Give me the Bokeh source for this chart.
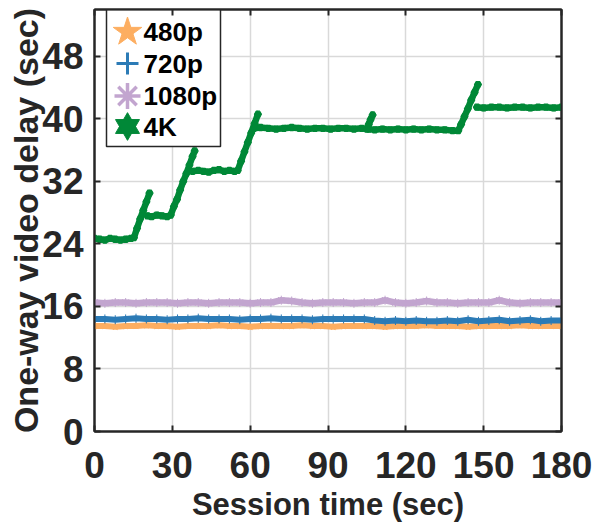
from math import nan

from bokeh.plotting import figure
from bokeh.models import FixedTicker, LinearAxis, Range1d, CustomJSTickFormatter
from bokeh.core.properties import value
from bokeh.embed import file_html
from bokeh.resources import INLINE

# ---------------- data ----------------
series_names = ["480p", "720p", "1080p", "4K"]
series_colors = ["#FDAE61", "#2C7BB6", "#C2A5CF", "#008837"]

# sampling instants (s) of the three steady resolutions
t_steady = [0, 4, 8, 12, 16, 20, 24, 28, 32, 36, 40, 44, 48, 52, 56, 60,
            64, 68, 72, 76, 80, 84, 88, 92, 96, 100, 104, 108, 112, 116, 120,
            124, 128, 132, 136, 140, 144, 148, 152, 156, 160, 164, 168, 172,
            176, 180]

delay_480p = [13.5, 13.5, 13.4, 13.5, 13.5, 13.6, 13.5, 13.5, 13.4, 13.5,
              13.5, 13.5, 13.6, 13.5, 13.5, 13.4, 13.5, 13.5, 13.5, 13.5,
              13.6, 13.5, 13.5, 13.4, 13.5, 13.5, 13.5, 13.5, 13.4, 13.5,
              13.5, 13.5, 13.6, 13.5, 13.5, 13.5, 13.4, 13.5, 13.5, 13.5,
              13.5, 13.6, 13.5, 13.5, 13.5, 13.5]

delay_720p = [14.4, 14.4, 14.3, 14.4, 14.5, 14.4, 14.4, 14.3, 14.4, 14.4,
              14.5, 14.4, 14.4, 14.4, 14.3, 14.4, 14.4, 14.5, 14.4, 14.4,
              14.4, 14.3, 14.4, 14.4, 14.4, 14.4, 14.4, 14.2, 14.1, 14.2,
              14.1, 14.2, 14.1, 14.1, 14.2, 14.1, 14.3, 14.1, 14.2, 14.3,
              14.1, 14.2, 14.3, 14.1, 14.2, 14.2]

delay_1080p = [16.5, 16.4, 16.5, 16.5, 16.4, 16.5, 16.5, 16.5, 16.4, 16.5,
               16.5, 16.4, 16.5, 16.5, 16.5, 16.4, 16.5, 16.5, 16.8, 16.7,
               16.5, 16.4, 16.5, 16.5, 16.5, 16.4, 16.5, 16.5, 16.8, 16.5,
               16.4, 16.5, 16.7, 16.5, 16.5, 16.4, 16.5, 16.5, 16.5, 16.8,
               16.5, 16.4, 16.5, 16.5, 16.5, 16.5]

# 4K stream: plateaus, stall ramps; nan separates the pieces
t_4k = [0, 2, 4, 6, 8, 10, 12, 14, 15.2,
        16.4, 17.6, 18.8, 20.0, 21.2, nan,
        20.4, 22, 24, 26, 28, 29.4,
        30.6, 31.8, 33.0, 34.2, 35.4, 36.6, 37.8, 38.6, nan,
        37.8, 40, 42, 44, 46, 48, 50, 52, 54, 55.2,
        56.5, 57.8, 59.1, 60.4, 61.7, 63.0, nan,
        61.5, 64, 67, 70, 73, 76, 79, 82, 85, 88, 91, 94, 97, 100, 103, 105.0,
        105.7, 106.4, 107.2, nan,
        105.8, 108, 111, 114, 117, 120, 123, 126, 129, 132, 135, 138, 140.2,
        141.3, 142.6, 143.9, 145.2, 146.5, 147.8, nan,
        147.4, 150, 153, 156, 159, 162, 165, 168, 171, 174, 177, 180]

delay_4k = [24.7, 24.6, 24.5, 24.7, 24.6, 24.5, 24.6, 24.7, 24.8,
            26.0, 27.2, 28.3, 29.4, 30.5, nan,
            27.6, 27.5, 27.7, 27.6, 27.5, 27.7,
            28.8, 29.7, 30.9, 32.0, 33.0, 34.1, 35.2, 35.9, nan,
            33.3, 33.4, 33.3, 33.2, 33.4, 33.5, 33.3, 33.4, 33.3, 33.4,
            34.6, 35.8, 37.0, 38.2, 39.4, 40.6, nan,
            38.8, 38.9, 38.8, 38.7, 38.8, 38.9, 38.8, 38.7, 38.8, 38.8, 38.7,
            38.8, 38.8, 38.7, 38.8, 38.7,
            39.3, 39.9, 40.5, nan,
            38.7, 38.6, 38.7, 38.6, 38.7, 38.6, 38.7, 38.6, 38.7, 38.6, 38.6,
            38.5, 38.5,
            39.3, 40.3, 41.3, 42.4, 43.4, 44.4, nan,
            41.5, 41.4, 41.5, 41.5, 41.4, 41.5, 41.5, 41.4, 41.5, 41.5, 41.4,
            41.5]

x_ticks = [0, 30, 60, 90, 120, 150, 180]
y_ticks = [0, 8, 16, 24, 32, 40, 48]

# ---------------- layout ----------------
X_START, X_END = 0, 180
Y_START, Y_END = 0, 54
FRAME_LEFT, FRAME_TOP, FRAME_W, FRAME_H = 94, 9, 467, 422
DARK = "#262626"
FONT = "Liberation Sans"

p = figure(frame_width=FRAME_W, frame_height=FRAME_H,
           min_border_left=FRAME_LEFT, min_border_right=594 - FRAME_LEFT - FRAME_W,
           min_border_top=FRAME_TOP, min_border_bottom=527 - FRAME_TOP - FRAME_H,
           x_range=Range1d(X_START, X_END), y_range=Range1d(Y_START, Y_END),
           output_backend="svg", toolbar_location=None,
           background_fill_color="white", border_fill_color="white")

p.outline_line_color = DARK
p.outline_line_width = 2

xt = FixedTicker(ticks=x_ticks)
yt = FixedTicker(ticks=y_ticks)
p.xaxis.ticker = xt
p.yaxis.ticker = yt
p.xgrid.ticker = xt
p.ygrid.ticker = yt
for g in (p.xgrid, p.ygrid):
    g.grid_line_color = "#d9d9d9"
    g.grid_line_width = 1.5

for ax in (p.xaxis[0], p.yaxis[0]):
    ax.axis_line_color = DARK
    ax.axis_line_width = 2
    ax.major_tick_line_color = DARK
    ax.major_tick_line_width = 2
    ax.major_tick_in = 6
    ax.major_tick_out = 0
    ax.minor_tick_line_color = None
    ax.major_label_text_font = FONT
    ax.major_label_text_font_style = "bold"
    ax.major_label_text_font_size = "37px"
    ax.major_label_text_color = DARK
    ax.axis_label_text_font = FONT
    ax.axis_label_text_font_style = "bold"
    ax.axis_label_text_color = DARK

p.xaxis.axis_label = "Session time (sec)"
p.xaxis.axis_label_text_font_size = "31px"
p.xaxis.major_label_standoff = 20
p.xaxis.axis_label_standoff = 6
p.yaxis.axis_label = "One-way video delay (sec)"
p.yaxis.axis_label_text_font_size = "34px"
p.yaxis.major_label_standoff = 11
p.yaxis.axis_label_standoff = -6

# inward ticks on the top and right edges of the box
for side, ticker in (("above", xt), ("right", yt)):
    ax = LinearAxis(ticker=ticker, formatter=CustomJSTickFormatter(code="return ''"),
                    major_label_text_font_size="0px", major_label_standoff=0,
                    axis_line_color=DARK, axis_line_width=2,
                    major_tick_line_color=DARK, major_tick_line_width=2,
                    major_tick_in=6, major_tick_out=0, minor_tick_line_color=None)
    p.add_layout(ax, side)

# ---------------- series ----------------
c480, c720, c1080, c4k = series_colors

p.line(t_steady, delay_480p, line_color=c480, line_width=6)
p.scatter(t_steady, delay_480p, marker="star", size=7, fill_color=c480, line_color=c480)

p.line(t_steady, delay_720p, line_color=c720, line_width=6)
p.scatter(t_steady, delay_720p, marker="cross", size=9, line_color=c720, line_width=1)

p.line(t_steady, delay_1080p, line_color=c1080, line_width=6.5)
p.scatter(t_steady, delay_1080p, marker="asterisk", size=9, line_color=c1080, line_width=1)

p.line(t_4k, delay_4k, line_color=c4k, line_width=6.5, line_join="round", line_cap="round")
p.scatter(t_4k, delay_4k, marker="hex", size=7, fill_color=None, line_color=c4k, line_width=1.2)


# ---------------- legend (screen positions -> data units) ----------------
def sx(px):
    return X_START + (px - FRAME_LEFT) * (X_END - X_START) / FRAME_W


def sy(py):
    return Y_END - (py - FRAME_TOP) * (Y_END - Y_START) / FRAME_H


p.quad(left=[sx(106)], right=[sx(220)], bottom=[sy(146)], top=[sy(FRAME_TOP)],
       fill_color="white", line_color=DARK, line_width=1.5)

rows = [sy(31.5), sy(63), sy(95.5), sy(126)]
mx = sx(127)
p.scatter([mx], [rows[0]], marker="star", size=30, fill_color=c480, line_color=c480)
p.scatter([mx], [rows[1]], marker="cross", size=22, line_color=c720, line_width=3)
p.scatter([mx], [rows[2]], marker="asterisk", size=26, line_color=c1080, line_width=3.5)
p.scatter([mx], [rows[3]], marker="triangle", size=24, fill_color=c4k, line_color=c4k)
p.scatter([mx], [rows[3]], marker="inverted_triangle", size=24, fill_color=c4k, line_color=c4k)

p.text(x=[sx(143)] * 4, y=rows, text=series_names,
       text_font=value(FONT), text_font_style="bold", text_font_size="26px",
       text_baseline="middle", text_align="left", text_color="black")

open("out.html", "w").write(file_html(p, INLINE))
